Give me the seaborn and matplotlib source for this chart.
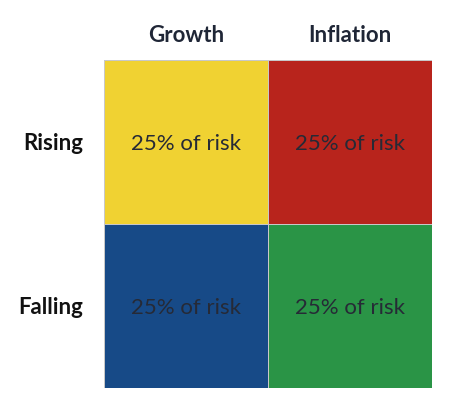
import numpy as np
import matplotlib
matplotlib.use("Agg")
import matplotlib.pyplot as plt
from matplotlib.colors import ListedColormap
import seaborn as sns

sns.set_theme(style="white")
plt.rcParams['font.family'] = ['Lato', 'DejaVu Sans']

# data
ROWS = ["Rising", "Falling"]
COLS = ["Growth", "Inflation"]
RISK_SHARE = [[25, 25],
              [25, 25]]
CELL_COLORS = ["#F0D232", "#B8241C", "#174A87", "#2A9446"]  # yellow, red, blue, green

TEXT_COLOR = "#1f2636"


def main():
    share = np.array(RISK_SHARE)
    color_idx = np.arange(share.size).reshape(share.shape)
    labels = np.array([[f"{v}% of risk" for v in row] for row in RISK_SHARE])

    fig = plt.figure(figsize=(4.52, 4.18), dpi=100)
    ax = fig.add_axes([104 / 452, 30 / 418, 328 / 452, 328 / 418])

    sns.heatmap(
        color_idx,
        cmap=ListedColormap(CELL_COLORS),
        annot=labels,
        fmt="",
        annot_kws={"fontsize": 16, "color": "#262a36", "va": "center_baseline"},
        cbar=False,
        linewidths=0.5,
        linecolor="#c8c8c8",
        xticklabels=COLS,
        yticklabels=ROWS,
        ax=ax,
    )

    ax.xaxis.tick_top()
    ax.tick_params(axis="both", length=0)
    ax.tick_params(axis="x", pad=10)
    ax.tick_params(axis="y", pad=15)
    for t in ax.get_xticklabels():
        t.set_fontsize(16)
        t.set_fontweight("bold")
        t.set_color(TEXT_COLOR)
    for t in ax.get_yticklabels():
        t.set_fontsize(16)
        t.set_fontweight("bold")
        t.set_color("#111111")
        t.set_rotation(0)
        t.set_verticalalignment("center_baseline")

    fig.savefig("out.png", dpi=100, facecolor="white")
    plt.close(fig)


if __name__ == "__main__":
    main()
